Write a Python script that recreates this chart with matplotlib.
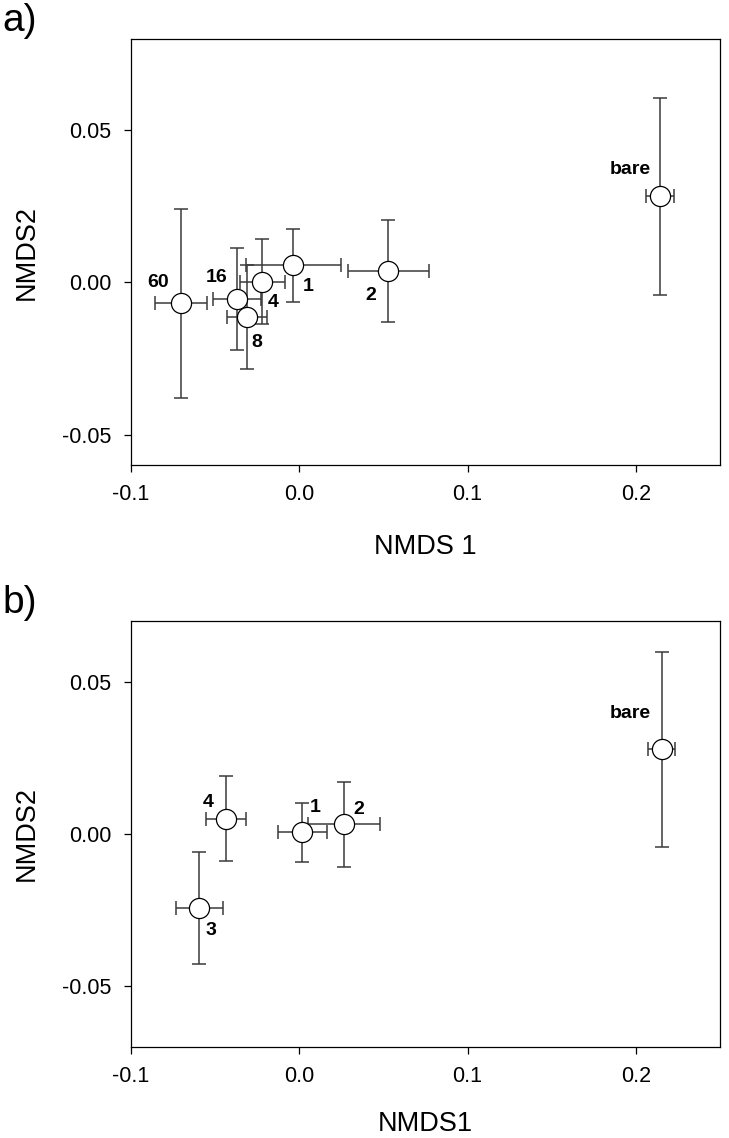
"""Ordenacao NMDS: medias e erros padrao por tratamento (paineis a e b)."""

import matplotlib.pyplot as plt

# Painel a) - tratamentos por idade
rotulos_a = ["60", "16", "4", "1", "8", "2", "bare"]
nmds1_a = [-0.0703, -0.0368, -0.0220, -0.0036, -0.0313, 0.0529, 0.2143]
nmds2_a = [-0.0069, -0.0054, 0.0003, 0.0056, -0.0115, 0.0037, 0.0283]
erro1_a = [0.0156, 0.0143, 0.0134, 0.0281, 0.0119, 0.0242, 0.0082]
erro2_a = [0.0310, 0.0168, 0.0140, 0.0119, 0.0171, 0.0167, 0.0323]

# Painel b)
rotulos_b = ["4", "1", "2", "3", "bare"]
nmds1_b = [-0.0436, 0.0018, 0.0266, -0.0594, 0.2153]
nmds2_b = [0.0050, 0.0005, 0.0032, -0.0243, 0.0278]
erro1_b = [0.0117, 0.0146, 0.0213, 0.0138, 0.0079]
erro2_b = [0.0140, 0.0096, 0.0139, 0.0185, 0.0321]

ticks_x = [-0.1, 0.0, 0.1, 0.2]
ticks_y = [-0.05, 0.00, 0.05]


def desenha_painel(ax, x, y, ex, ey, rotulos, deslocamentos, ylim, xlabel,
                   pos_xlabel):
    ax.errorbar(x, y, xerr=ex, yerr=ey, fmt="none", ecolor="#3a3a3a",
                elinewidth=1.1, capsize=5, capthick=1.1, zorder=2)
    ax.plot(x, y, "o", markersize=14.5, markerfacecolor="white",
            markeredgecolor="black", markeredgewidth=0.9, linestyle="none",
            zorder=3)
    for xi, yi, rot, (dx, dy) in zip(x, y, rotulos, deslocamentos):
        ax.annotate(rot, (xi, yi), xytext=(dx, dy), textcoords="offset pixels",
                    ha="center", va="center", fontsize=14, fontweight="bold",
                    zorder=4)
    ax.set_xlim(-0.1, 0.25)
    ax.set_ylim(*ylim)
    ax.set_xticks(ticks_x)
    ax.set_xticklabels([f"{v:.1f}" for v in ticks_x])
    ax.set_yticks(ticks_y)
    ax.set_yticklabels([f"{v:.2f}" for v in ticks_y])
    ax.tick_params(direction="out", length=5, width=0.9, labelsize=15.5,
                   pad=9, top=False, right=False)
    for lado in ax.spines.values():
        lado.set_linewidth(0.9)
    ax.set_xlabel(xlabel, fontsize=19.5)
    ax.set_ylabel("NMDS2", fontsize=19.5)
    ax.xaxis.set_label_coords(0.5, pos_xlabel)
    ax.yaxis.set_label_coords(-0.155, 0.5)


def main() -> None:
    plt.rcParams["font.family"] = ["Liberation Sans", "DejaVu Sans"]
    plt.rcParams["axes.unicode_minus"] = False

    fig = plt.figure(figsize=(7.29, 11.38), dpi=100)
    ax_a = fig.add_axes([0.1797, 0.5914, 0.808, 0.3743])
    ax_b = fig.add_axes([0.1797, 0.0800, 0.808, 0.3743])

    # Deslocamento dos rotulos em pixels (dx, dy) em relacao ao ponto.
    desl_a = [(-23, 21), (-21, 21), (11, -21), (15, -21), (10, -25),
              (-18, -24), (-30, 27)]
    desl_b = [(-18, 16), (13, 25), (15, 15), (12, -23), (-31, 36)]

    desenha_painel(ax_a, nmds1_a, nmds2_a, erro1_a, erro2_a, rotulos_a,
                   desl_a, (-0.06, 0.08), "NMDS 1", -0.162)
    desenha_painel(ax_b, nmds1_b, nmds2_b, erro1_b, erro2_b, rotulos_b,
                   desl_b, (-0.07, 0.07), "NMDS1", -0.150)

    fig.text(0.003, 0.997, "a)", fontsize=28, ha="left", va="top")
    fig.text(0.003, 0.486, "b)", fontsize=28, ha="left", va="top")

    fig.savefig("out.png", dpi=100)
    plt.close(fig)


if __name__ == "__main__":
    main()
